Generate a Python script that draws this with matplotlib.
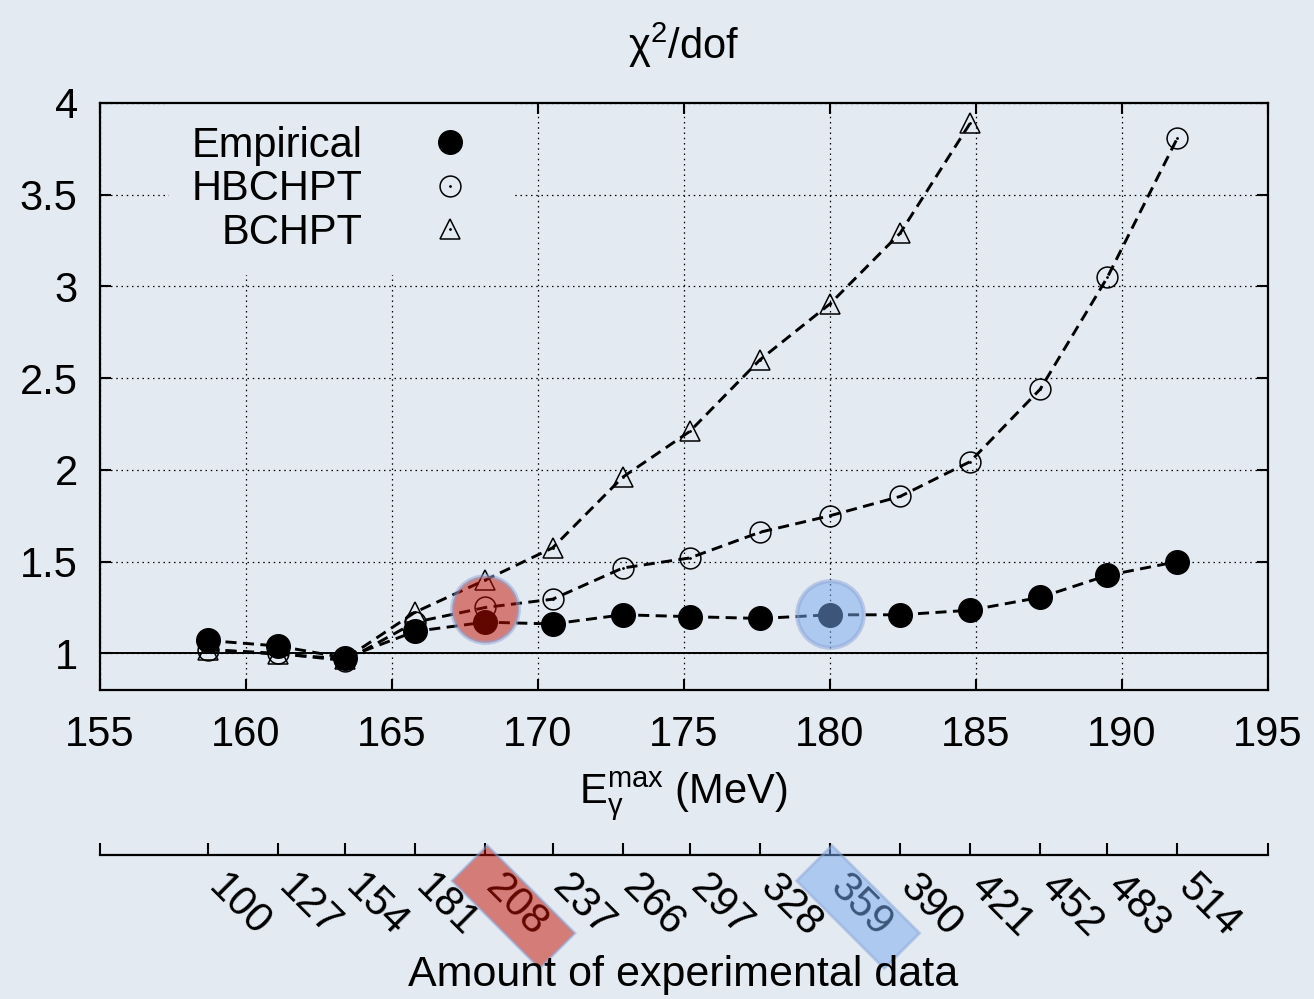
import matplotlib
matplotlib.use("Agg")
import matplotlib.pyplot as plt
from matplotlib.lines import Line2D
from matplotlib.patches import Rectangle
from matplotlib import transforms as mtransforms

plt.rcParams['font.family'] = ['Liberation Sans', 'DejaVu Sans']
plt.rcParams['mathtext.fontset'] = 'custom'
plt.rcParams['mathtext.rm'] = 'Liberation Sans'
plt.rcParams['mathtext.it'] = 'Liberation Sans:italic'
plt.rcParams['mathtext.default'] = 'regular'

# data
e_max = [158.7, 161.1, 163.4, 165.8, 168.2, 170.5, 172.9, 175.2, 177.6, 180.0,
         182.4, 184.8, 187.2, 189.5, 191.9]
n_data = [100, 127, 154, 181, 208, 237, 266, 297, 328, 359, 390, 421, 452, 483, 514]
empirical = [1.07, 1.04, 0.975, 1.12, 1.17, 1.16, 1.21, 1.20, 1.19, 1.21,
             1.21, 1.235, 1.305, 1.425, 1.50]
hbchpt = [1.02, 1.00, 0.96, 1.17, 1.25, 1.295, 1.465, 1.52, 1.66, 1.75,
          1.855, 2.045, 2.44, 3.05, 3.81]
bchpt = [1.02, 0.995, 0.97, 1.225, 1.40, 1.575, 1.96, 2.21, 2.60, 2.905,
         3.29, 3.89]
# highlighted fits
hl_red = (168.2, 1.24)
hl_blue = (180.0, 1.213)

bg = '#e4eaf2'
red = (195/255, 15/255, 0)
blue = (120/255, 170/255, 240/255)
ring = (140/255, 165/255, 215/255)

fig = plt.figure(figsize=(13.14, 9.99), dpi=100)
fig.patch.set_facecolor(bg)

ax = fig.add_axes([0.0761, 0.3093, 0.8889, 0.5876])
ax.set_facecolor('none')
ax.set_xlim(155, 195)
ax.set_ylim(0.8, 4)
ax.set_xticks(range(155, 196, 5))
ax.set_yticks([1, 1.5, 2, 2.5, 3, 3.5, 4])
ax.set_yticklabels(['1', '1.5', '2', '2.5', '3', '3.5', '4'])
ax.tick_params(direction='in', length=8, width=1.5, top=True, right=True,
               labelsize=30)
ax.tick_params(axis='x', pad=18)
ax.tick_params(axis='y', pad=16)
for s in ax.spines.values():
    s.set_linewidth(1.6)
ax.set_axisbelow(True)
ax.grid(True, color='black', lw=0.9, ls=(0, (1.2, 3)))
ax.axhline(1, color='black', lw=1.4, zorder=1.5)

dash = (0, (3.8, 2.2))
ax.plot(e_max[:len(bchpt)], bchpt, color='black', lw=2.1, ls=dash,
        marker='^', ms=15, mfc='none', mec='black', mew=1.1, zorder=3)
ax.plot(e_max[:len(bchpt)], bchpt, ls='none', marker='.', ms=2, color='black', zorder=3)
ax.plot(e_max, hbchpt, color='black', lw=2.1, ls=dash,
        marker='o', ms=15, mfc='none', mec='black', mew=1.1, zorder=3)
ax.plot(e_max, hbchpt, ls='none', marker='.', ms=2, color='black', zorder=3)
ax.plot(e_max, empirical, color='black', lw=2.1, ls=dash,
        marker='o', ms=17, mfc='black', mec='black', zorder=4)

ax.scatter([hl_red[0]], [hl_red[1]], s=2300, color=red, alpha=0.5,
           edgecolors=[ring], linewidths=3, zorder=10)
ax.scatter([hl_blue[0]], [hl_blue[1]], s=2300, color=blue, alpha=0.5,
           edgecolors=[ring], linewidths=3, zorder=10)

h_emp = Line2D([], [], ls='none', marker='o', ms=17, color='black')
h_hb = (Line2D([], [], ls='none', marker='o', ms=15, mfc='none', mec='black', mew=1.1),
        Line2D([], [], ls='none', marker='.', ms=2, color='black'))
h_b = (Line2D([], [], ls='none', marker='^', ms=15, mfc='none', mec='black', mew=1.1),
       Line2D([], [], ls='none', marker='.', ms=2, color='black'))
leg = ax.legend([h_emp, h_hb, h_b], ['Empirical', 'HBCHPT', 'BCHPT'],
                loc='upper right', bbox_to_anchor=(0.355, 1.0), borderaxespad=0,
                markerfirst=False, frameon=True, facecolor=bg, edgecolor='none',
                framealpha=1, fancybox=False, fontsize=30, labelspacing=0.08,
                handlelength=2, handletextpad=1.1, borderpad=0.55)
leg.set_zorder(2)

fig.text(0.52, 0.955, r'$\chi^{2}$/dof', ha='center', va='center', fontsize=30)
fig.text(0.52, 0.203, r'$E_{\gamma}^{max}$ (MeV)', ha='center', va='center', fontsize=30)
fig.text(0.52, 0.024, 'Amount of experimental data', ha='center', va='center', fontsize=31)

# secondary axis: number of data points
ax2 = fig.add_axes([0.0761, 0.1441, 0.8889, 0.02])
ax2.set_facecolor('none')
ax2.set_xlim(155, 195)
for k in ['top', 'left', 'right']:
    ax2.spines[k].set_visible(False)
ax2.spines['bottom'].set_linewidth(1.6)
ax2.set_yticks([])
ax2.set_xticks([155] + e_max + [195])
ax2.tick_params(axis='x', direction='in', length=9, width=1.5, labelbottom=False)
for x, n in zip(e_max, n_data):
    ax2.annotate(str(n), xy=(x, 0), xycoords=('data', 'axes fraction'),
                 xytext=(22.3, -36.7), textcoords='offset points', rotation=-45,
                 rotation_mode='anchor', ha='center', va='center', fontsize=30)

trans = mtransforms.blended_transform_factory(ax2.transData, ax2.transAxes)
for x, c in [(hl_red[0], red), (hl_blue[0], blue)]:
    t = mtransforms.Affine2D().rotate_deg(-45) + mtransforms.ScaledTranslation(x, 0, trans)
    box = Rectangle((-5.4, -41.9), 124, 50, transform=t, facecolor=c, alpha=0.5,
                    edgecolor=ring, lw=2, clip_on=False, zorder=6)
    ax2.add_artist(box)

fig.savefig('out.png', dpi=100, facecolor=bg)
